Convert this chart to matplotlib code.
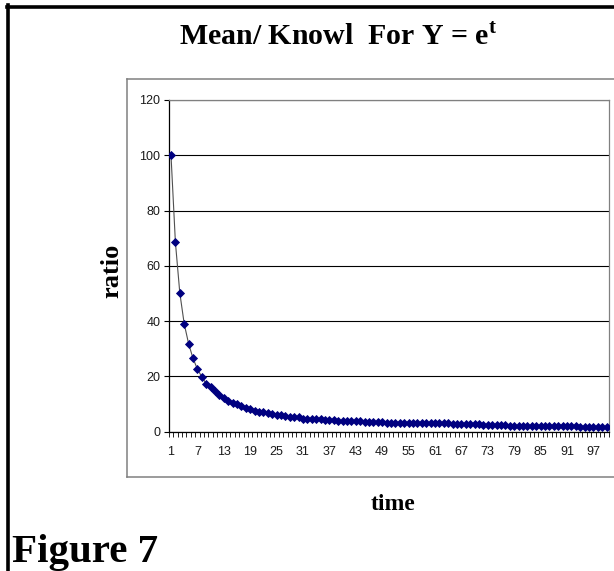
import matplotlib
matplotlib.use("Agg")
import matplotlib.pyplot as plt
from matplotlib.lines import Line2D
import numpy as np

# ---- data ----
time = list(range(1, 101))
ratio = [100.0, 68.5, 50.2, 39.0, 31.8, 26.5, 22.6, 19.8, 17.3, 16.0,
         14.8, 13.1, 12.1, 11.2, 10.4, 10.0, 9.2, 8.5, 8.0, 7.5,
         7.1, 6.9, 6.7, 6.3, 6.1, 6.0, 5.6, 5.4, 5.2, 5.1,
         4.7, 4.6, 4.6, 4.4, 4.4, 4.3, 4.2, 4.0, 3.9, 3.8,
         3.8, 3.8, 3.7, 3.7, 3.4, 3.5, 3.5, 3.4, 3.4, 3.2,
         3.1, 3.2, 3.1, 3.1, 3.1, 3.0, 3.0, 3.0, 3.0, 2.9,
         2.9, 2.9, 2.9, 2.9, 2.8, 2.7, 2.6, 2.6, 2.6, 2.6,
         2.6, 2.5, 2.5, 2.5, 2.5, 2.5, 2.5, 2.1, 2.1, 2.1,
         2.1, 2.1, 2.1, 2.1, 2.1, 2.1, 2.0, 2.0, 2.0, 2.0,
         2.0, 1.9, 1.9, 1.7, 1.6, 1.6, 1.6, 1.6, 1.6, 1.6]
x_tick_labels = [str(v) for v in range(1, 101, 6)]
y_ticks = [0, 20, 40, 60, 80, 100, 120]

title = "Mean/ Knowl  For Y = e$^{\\mathrm{t}}$"
x_label = "time"
y_label = "ratio"
fig_label = "Figure 7"

plt.rcParams["mathtext.fontset"] = "custom"
plt.rcParams["mathtext.rm"] = "Liberation Serif:bold"
plt.rcParams["mathtext.bf"] = "Liberation Serif:bold"

W, H = 614, 571
fig = plt.figure(figsize=(W / 100, H / 100), dpi=100)
fig.patch.set_facecolor("white")

def fx(px):
    return px / W

def fy(py):
    return 1 - py / H

# plot area
left, right, top, bottom = 168.8, 608.7, 100, 431.5
ax = fig.add_axes([fx(left), fy(bottom), fx(right) - fx(left), fy(top) - fy(bottom)])

ax.plot(time, ratio, color="#505050", lw=0.8, marker="D", ms=3.6,
        mfc="#000080", mec="#000080", mew=0.6, zorder=3)

ax.set_xlim(0.5, 100.5)
ax.set_ylim(0, 120)
ax.set_yticks(y_ticks)
ax.set_yticklabels([str(v) for v in y_ticks])
ax.set_xticks(list(range(1, 101, 6)))
ax.set_xticklabels(x_tick_labels)
ax.set_xticks(np.arange(0.5, 101, 1.0), minor=True)
ax.tick_params(axis="x", which="major", length=0, pad=10.5, labelsize=9, labelcolor="#1a1a1a")
ax.tick_params(axis="x", which="minor", length=3.5, width=0.6, color="#000000", direction="out")
ax.tick_params(axis="y", which="major", length=3.5, width=0.8, pad=2.5, labelsize=9, labelcolor="#1a1a1a")
for t in ax.get_xticklabels() + ax.get_yticklabels():
    t.set_fontfamily("Liberation Sans")

ax.yaxis.grid(True, color="#000000", lw=0.8)
ax.set_axisbelow(True)
ax.spines["left"].set_color("#000000")
ax.spines["bottom"].set_color("#000000")
ax.spines["top"].set_color("#808080")
ax.spines["right"].set_color("#808080")
for s in ax.spines.values():
    s.set_linewidth(0.9)

# chart outer box (left, top, bottom edges; right edge is cut off)
box_c = "#808080"
fig.add_artist(Line2D([fx(127), fx(127)], [fy(79), fy(477)], color=box_c, lw=1.1, transform=fig.transFigure))
fig.add_artist(Line2D([fx(127), 1.0], [fy(79), fy(79)], color=box_c, lw=1.1, transform=fig.transFigure))
fig.add_artist(Line2D([fx(127), 1.0], [fy(477), fy(477)], color=box_c, lw=1.1, transform=fig.transFigure))

# page border
fig.add_artist(Line2D([fx(6.5), 1.0], [fy(6.5), fy(6.5)], color="black", lw=2.6, transform=fig.transFigure))
fig.add_artist(Line2D([fx(7.5), fx(7.5)], [fy(5), 0.0], color="black", lw=2.6, transform=fig.transFigure))

serif = "Liberation Serif"
fig.text(fx(338), fy(37), title, ha="center", va="center", fontsize=21.5,
         fontweight="bold", family=serif)
fig.text(fx(393), fy(504), x_label, ha="center", va="center", fontsize=17,
         fontweight="bold", family=serif)
fig.text(fx(112), fy(271), y_label, ha="center", va="center", fontsize=19,
         fontweight="bold", family=serif, rotation=90)
fig.text(fx(12), fy(562), fig_label, ha="left", va="baseline", fontsize=29.5,
         fontweight="bold", family=serif)

fig.savefig("out.png", dpi=100, facecolor="white")
